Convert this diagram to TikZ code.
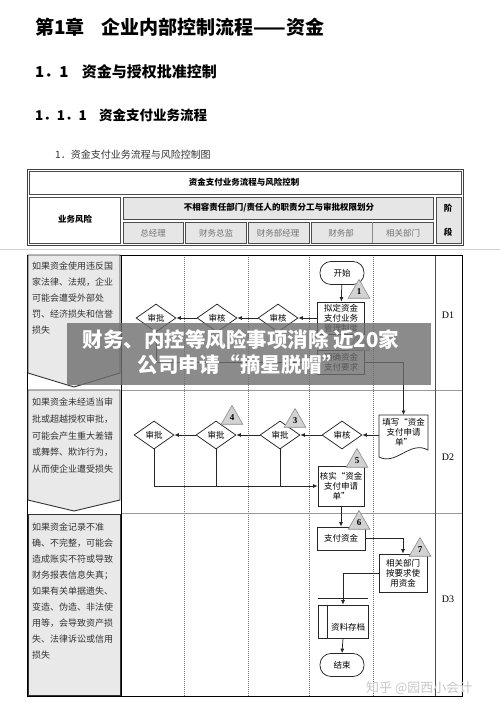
\documentclass[tikz,border=0pt]{standalone}
\usepackage{fontspec}
\setmainfont{Noto Sans CJK SC}
\newfontfamily\serifnum{Liberation Serif}
\usetikzlibrary{arrows.meta,shapes.geometric}
\definecolor{cellgray}{HTML}{E6E6E6}
\definecolor{boxgray}{HTML}{E9E9E9}
\definecolor{trigray}{HTML}{D2D2D2}
\tikzset{
  conn/.style={draw=black!85, line width=0.75pt},
  arr/.style={conn, -{Latex[length=4.5pt,width=4pt]}},
  procbox/.style={draw=black!85, line width=0.75pt, fill=white, align=center, inner sep=0.5pt,
     font=\fontsize{8.5}{10}\selectfont},
  term/.style={draw=black!85, line width=0.75pt, fill=white, rounded corners=11pt,
     minimum width=44, minimum height=23, inner sep=0, font=\fontsize{8.5}{10}\selectfont},
  dia/.style={diamond, draw=black!85, line width=0.75pt, fill=white, minimum width=40,
     minimum height=28, inner sep=0, font=\fontsize{8.5}{10}\selectfont},
  tri/.style={regular polygon, regular polygon sides=3, minimum size=25, fill=trigray,
     draw=black!45, line width=0.6pt, inner sep=0, font=\serifnum\bfseries\fontsize{9}{9}\selectfont},
  lane/.style={draw=black!55, line width=0.5pt, dash pattern=on 1pt off 1pt},
  riskbox/.style={fill=boxgray, draw=black!80, line width=0.9pt},
  risktext/.style={anchor=north west, align=left, inner sep=0, text=black!80},
  hcell/.style={draw=black!70, line width=0.7pt},
  htext/.style={font=\bfseries\fontsize{8.5}{10}\selectfont, inner sep=0},
  ltext/.style={font=\fontsize{8.5}{10}\selectfont, text=black!55, inner sep=0},
  stage/.style={font=\serifnum\fontsize{10}{10}\selectfont, inner sep=0},
  bantext/.style={text=white, inner sep=0, font=\bfseries\fontsize{20.5}{22}\selectfont},
}
\begin{document}
\begin{tikzpicture}[x=1pt,y=-1pt]
\useasboundingbox (0,0) rectangle (500,709);
\fill[white] (0,0) rectangle (500,709);

% headings
\node[anchor=west, inner sep=0, font=\bfseries\fontsize{19}{20}\selectfont] (h1) at (35,27) {第1章\hspace{0.9em}企业内部控制流程——资金};
\node[anchor=west, inner sep=0, font=\bfseries\fontsize{15}{17}\selectfont] (h2) at (35,72) {1．1\hspace{0.9em}资金与授权批准控制};
\node[anchor=west, inner sep=0, font=\bfseries\fontsize{13.5}{15}\selectfont] (h3) at (35,115) {1．1．1\hspace{0.9em}资金支付业务流程};
\node[anchor=west, inner sep=0, font=\fontsize{10}{12}\selectfont, text=black!80] (h4) at (55,155) {1．资金支付业务流程与风险控制图};

% header table
\draw[black!75, line width=1pt] (27,169) rectangle (463,245);
\draw[hcell] (29,171) rectangle (461,194);
\draw[hcell] (29,197) rectangle (120,243);
\draw[hcell, fill=cellgray] (123,197) rectangle (433,219);
\draw[hcell, fill=cellgray] (123,222) rectangle (183,243);
\draw[hcell, fill=cellgray] (185,222) rectangle (246,243);
\draw[hcell, fill=cellgray] (248,222) rectangle (309,243);
\draw[hcell, fill=cellgray] (311,222) rectangle (433,243);
\draw[black!45, line width=0.5pt] (372,222) -- (372,243);
\draw[hcell, fill=cellgray] (436,197) rectangle (461,243);
\node[htext] (ht) at (244,182) {资金支付业务流程与风险控制};
\node[htext] (hr) at (75,219) {业务风险};
\node[htext] (hd) at (279,208) {不相容责任部门/责任人的职责分工与审批权限划分};
\node[ltext] (c1) at (153,233) {总经理};
\node[ltext] (c2) at (216,233) {财务总监};
\node[ltext] (c3) at (278,233) {财务部经理};
\node[ltext] (c4) at (341,233) {财务部};
\node[ltext] (c5) at (403,233) {相关部门};
\node[htext] (s1) at (448,208) {阶};
\node[htext] (s2) at (448,232) {段};

% faint page line
\draw[black!18, line width=0.6pt] (0,249) -- (500,249);

% main table
\draw[black!40, line width=0.6pt] (121,390) -- (435,390) (121,513) -- (435,513);
\draw[black!40, line width=0.6pt] (435,390) -- (462,390) (435,513) -- (462,513);
\foreach \lx in {184,248,309,373} \draw[lane] (\lx,255) -- (\lx,696);
\draw[black!70, line width=0.9pt] (435,255) -- (435,696);
\draw[black, line width=1pt] (121,255) -- (121,696);
\draw[black, line width=1pt] (27,255) rectangle (462,696);

% risk column
\draw[riskbox] (28,255) -- (120,255) -- (120,373) -- (74,387) -- (28,373) -- cycle;
\draw[riskbox] (28,390) -- (120,390) -- (120,500) -- (74,511) -- (28,500) -- cycle;
\draw[riskbox] (28,514) rectangle (120,695);
\node[risktext, font=\fontsize{9}{16}\selectfont] (r1) at (32,262) {如果资金使用违反国\\家法律、法规，企业\\可能会遭受外部处\\罚、经济损失和信誉\\损失};
\node[risktext, font=\fontsize{9}{16.6}\selectfont] (r2) at (32,398) {如果资金未经适当审\\批或超越授权审批，\\可能会产生重大差错\\或舞弊、欺诈行为，\\从而使企业遭受损失};
\node[risktext, font=\fontsize{9}{16}\selectfont] (r3) at (32,523) {如果资金记录不准\\确、不完整，可能会\\造成账实不符或导致\\财务报表信息失真；\\如果有关单据遗失、\\变造、伪造、非法使\\用等，会导致资产损\\失、法律诉讼或信用\\损失};

% stages
\node[stage] (D1) at (448,315) {D1};
\node[stage] (D2) at (448,457) {D2};
\node[stage] (D3) at (448,599) {D3};

% ---- row D1
\node[term] (start) at (342,273) {开始};
\node[procbox, minimum width=47, minimum height=32] (p1) at (341,318) {拟定资金\\支付业务\\管理制度};
\node[procbox, minimum width=47, minimum height=24] (p2) at (341,362) {明确资金\\支付要求};
\node[dia] (d1c) at (278,318) {审核};
\node[dia] (d1b) at (217,318) {审核};
\node[dia] (d1a) at (156,318) {审批};
\draw[arr] (start) -- (p1);
\draw[arr] (p1.west) -- (d1c.east);
\draw[arr] (d1c.west) -- (d1b.east);
\draw[arr] (d1b.west) -- (d1a.east);
\draw[arr] (d1a.south) |- (p2.west);
\node[tri] (t1) at (359,292) {1};
\node[tri] (t2) at (359,344) {2};

% ---- row D2
\node[inner sep=0, minimum width=49, minimum height=36, anchor=north] (doc) at (403.5,415) {};
\draw[conn, fill=white] (379,415) -- (428,415) -- (428,450) .. controls (410,440) and (396,466) .. (379,457) -- cycle;
\node[inner sep=0, align=center, font=\fontsize{8.5}{10}\selectfont] (doct) at (403.5,432) {填写“资金\\支付申请\\单”};
\draw[arr] (p2.east) -| (doc.north);
\node[dia] (d2a) at (342,435) {审核};
\node[dia] (d2b) at (280,435) {审批};
\node[dia] (d2c) at (216,435) {审批};
\node[dia] (d2d) at (154,435) {审批};
\draw[arr] (doc.west |- d2a.east) -- (d2a.east);
\draw[arr] (d2a.west) -- (d2b.east);
\draw[arr] (d2b.west) -- (d2c.east);
\draw[arr] (d2c.west) -- (d2d.east);
\node[procbox, minimum width=46, minimum height=40] (chk) at (341,486) {核实“资金\\支付申请\\单”};
\draw[arr] (d2d.south) |- (chk.west);
\draw[conn] (d2c.south) -- (d2c |- chk.west);
\draw[conn] (d2b.south) -- (d2b |- chk.west);
\node[tri] (t3) at (295,421) {3};
\node[tri] (t4) at (232,418) {4};
\node[tri] (t5) at (357,461) {5};

% ---- row D3
\node[procbox, minimum width=48, minimum height=23] (pay) at (341,538.5) {支付资金};
\node[procbox, minimum width=48, minimum height=38] (use) at (403,573) {相关部门\\按要求使\\用资金};
\node[procbox, minimum width=50, minimum height=33] (arc) at (343,621.5) {};
\draw[conn] ([yshift=6]arc.north west) -- ([yshift=6]arc.north east);
\draw[conn] ([xshift=10]arc.north west) -- ([xshift=10]arc.south west);
\node[inner sep=0, font=\fontsize{8.5}{10}\selectfont] (arct) at (348,627) {资料存档};
\node[term] (end) at (342,665) {结束};
\draw[arr] (chk.south) -- (pay.north);
\draw[arr] (pay.east) -| (use.north);
\draw[arr] (use.west) -| (arc.north);
\draw[arr] (arc.south) -- (end.north);
\node[tri] (t6) at (359,523) {6};
\node[tri] (t7) at (420,550) {7};

% overlay banner
\fill[black!57, fill opacity=0.8] (67,323) rectangle (431,385);
\node[bantext] (b1) at (241,340) {财务、内控等风险事项消除 近20家};
\node[bantext] (b2) at (240,365) {公司申请“摘星脱帽”};

% watermark
\node[anchor=west, inner sep=0, text=black!22, font=\fontsize{13}{14}\selectfont] (wm) at (366,688) {知乎 @园西小会计};
\end{tikzpicture}
\end{document}
